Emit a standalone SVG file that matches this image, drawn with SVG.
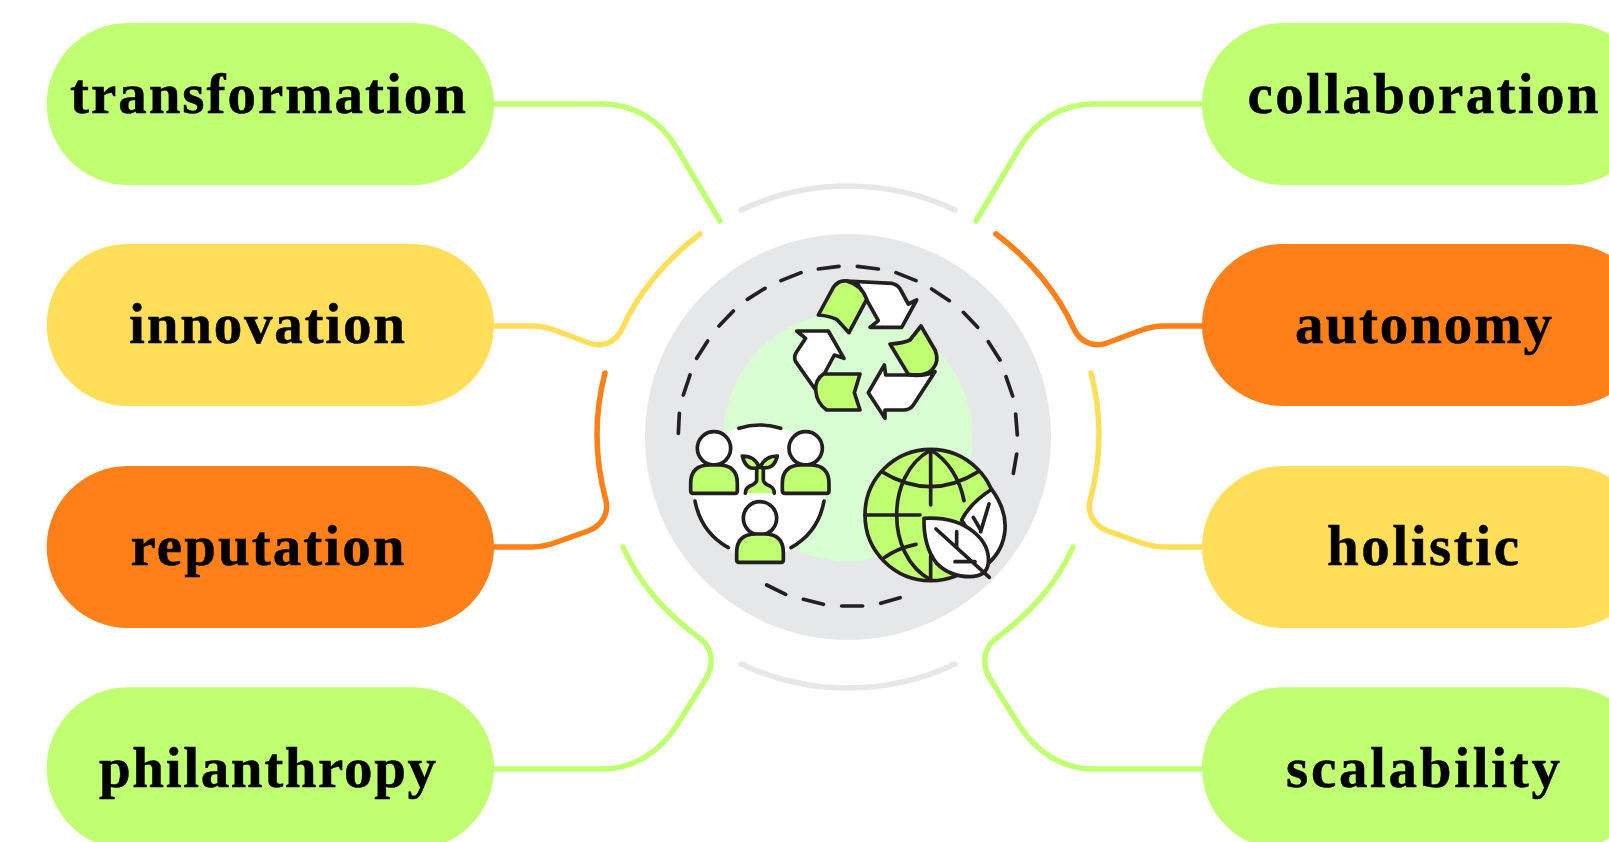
<svg xmlns="http://www.w3.org/2000/svg" width="1609" height="842" viewBox="0 0 1609 842">
<style>
.t{font-family:"Liberation Serif","Times New Roman",serif;font-weight:700;font-size:57px;fill:#000;stroke:#000;stroke-width:.5}
.c{fill:none;stroke-width:5.5;stroke-linecap:round;stroke-linejoin:round}
.i{stroke:#231f20;stroke-width:11;stroke-linecap:round;stroke-linejoin:round}
.l{fill:none}.g{fill:#c1ff72}.w{fill:#fff}
</style>
<rect width="1609" height="842" fill="#fff"/>
<g id="connectors">
<path class="c" stroke="#c1ff72" d="M494 104H603C633 104 660 120 676 147L720 221"/>
<path class="c" stroke="#ffde59" d="M494 326H532C541 326 549 328 557 331L589 343C602 348 616 342 622 329C637 295 665 260 700 234"/>
<path class="c" stroke="#ff7f18" d="M494 547H532C541 547 549 545 557 542L588 531C602 526 609 513 606 501C595 460 594 415 605 373"/>
<path class="c" stroke="#c1ff72" d="M494 769H603C633 769 660 752 677 725L707 677C715 660 711 646 698 637C665 612 640 585 623 547"/>
<path class="c" stroke="#c1ff72" d="M1202 104H1093C1063 104 1036 120 1020 147L976 221"/>
<path class="c" stroke="#ff7f18" d="M1202 326H1164C1155 326 1147 328 1139 331L1107 343C1094 348 1080 342 1074 329C1059 295 1031 260 996 234"/>
<path class="c" stroke="#ffde59" d="M1202 547H1164C1155 547 1147 545 1139 542L1108 531C1094 526 1087 513 1090 501C1101 460 1102 415 1091 373"/>
<path class="c" stroke="#c1ff72" d="M1202 769H1093C1063 769 1036 752 1019 725L989 677C981 660 985 646 998 637C1031 612 1056 585 1073 547"/>
<path class="c" stroke="#e6e7e8" d="M741 210A251 251 0 0 1 955 210"/>
<path class="c" stroke="#e6e7e8" d="M741 664A251 251 0 0 0 955 664"/>
</g>
<g id="node-transformation"><rect x="46.7" y="23" width="447.3" height="162" rx="81" fill="#c1ff72"/><text class="t" x="70" y="112.7" textLength="396">transformation</text></g>
<g id="node-innovation"><rect x="46.7" y="244" width="447.3" height="162" rx="81" fill="#ffde59"/><text class="t" x="129" y="342.7" textLength="276">innovation</text></g>
<g id="node-reputation"><rect x="46.7" y="466" width="447.3" height="162" rx="81" fill="#ff7f18"/><text class="t" x="130.5" y="565" textLength="274">reputation</text></g>
<g id="node-philanthropy"><rect x="46.7" y="687.3" width="447.3" height="162" rx="81" fill="#c1ff72"/><text class="t" x="99" y="787.3" textLength="337">philanthropy</text></g>
<g id="node-collaboration"><rect x="1202" y="23" width="447.3" height="162" rx="81" fill="#c1ff72"/><text class="t" x="1247.5" y="112.7" textLength="351">collaboration</text></g>
<g id="node-autonomy"><rect x="1202" y="244" width="447.3" height="162" rx="81" fill="#ff7f18"/><text class="t" x="1295" y="342.7" textLength="257">autonomy</text></g>
<g id="node-holistic"><rect x="1202" y="466" width="447.3" height="162" rx="81" fill="#ffde59"/><text class="t" x="1327" y="565" textLength="192">holistic</text></g>
<g id="node-scalability"><rect x="1202" y="687.3" width="447.3" height="162" rx="81" fill="#c1ff72"/><text class="t" x="1286" y="787.3" textLength="274">scalability</text></g>
<g id="centre">
<circle cx="848" cy="437" r="203" fill="#e6e7e8"/>
<circle cx="848" cy="437" r="124.5" fill="#d9fdd3"/>
<g transform="translate(640 230) scale(.33333)">
<circle class="w" cx="359" cy="783" r="200"/>
<path class="i l" d="M115 610L118 550M130 495L150 435M170 385L203 333M237 288L280 243M322 208L375 175M423 152L483 128M535 117L597 109M652 109L715 117M768 128L828 152M875 177L928 212M970 247L1013 292M1045 335L1080 390M1098 440L1118 498M1127 552L1132 615M1130 672L1120 730M380 1065L437 1093M490 1108L550 1123M605 1128L668 1128M722 1120L780 1103"/>
<path class="i w" d="M620 153L755 160Q775 165 782 180L805 222L830 210L785 292L690 292L715 272L655 165Z"/>
<path class="i g" d="M535 255L580 172Q595 150 620 153Q665 165 680 208L627 308L590 268Q570 258 535 255Z"/>
<path class="i w" d="M885 425L820 525Q810 540 790 540L735 540L735 565L685 488L733 405L737 435L805 435Q855 440 885 425Z"/>
<path class="i g" d="M843 288L885 360Q900 395 875 420Q855 440 805 433L750 342Q790 340 810 330Z"/>
<path class="i w" d="M470 303L565 303L612 385L583 375L527 480L467 395Q460 380 470 365L497 325Z"/>
<path class="i g" d="M660 432L550 432Q525 450 527 480Q530 520 560 540L660 540L643 488Z"/>
<circle class="i w" cx="222" cy="655" r="50"/>
<circle class="i w" cx="497" cy="655" r="50"/>
<circle class="i w" cx="360" cy="865" r="50"/>
<path class="i g" d="M152 782V760Q152 705 210 705H235Q292 705 292 760V782Q292 790 285 790H160Q152 790 152 782Z"/>
<path class="i g" d="M427 782V760Q427 705 485 705H510Q567 705 567 760V782Q567 790 560 790H435Q427 790 427 782Z"/>
<path class="i g" d="M290 989V967Q290 912 348 912H373Q430 912 430 967V989Q430 997 423 997H298Q290 997 290 989Z"/>
<path class="g" d="M316 790Q316 775 330 768Q350 760 350 750V715H370V750Q370 760 390 768Q403 775 403 790Z"/>
<path class="i g" d="M307 678Q345 678 358 712Q318 725 307 678ZM412 678Q375 678 360 712Q402 722 412 678Z"/>
<path class="i l" d="M350 718V750Q350 760 330 768Q316 775 316 790M370 718V750Q370 760 390 768Q403 775 403 790"/>
<path class="i l" d="M297 595Q359 575 422 595M165 813C178 880 215 925 265 953M552 813C540 880 503 925 453 953"/>
<circle class="i g" cx="872" cy="855" r="197"/>
<path class="i l" d="M872 660V825M872 980V1050M872 660C800 700 770 780 770 855C770 930 800 1010 872 1050M872 660C925 690 960 750 972 812M725 725Q872 815 1015 725M730 985Q770 955 828 943M675 855H840"/>
<path class="i w" d="M1055 778Q1100 840 1095 900Q1090 960 1045 1000L965 870Q990 820 1055 778Z"/>
<path class="i l" d="M1047 822L1022 905M1000 862L1022 900"/>
<path class="i w" d="M852 865Q945 860 1000 905Q1050 945 1045 1000Q1040 1040 990 1040Q930 1040 890 1000Q850 950 852 865Z"/>
<path class="i l" d="M888 897L1048 1042M950 905V952M945 995H1005"/>
</g>
</g>
</svg>
